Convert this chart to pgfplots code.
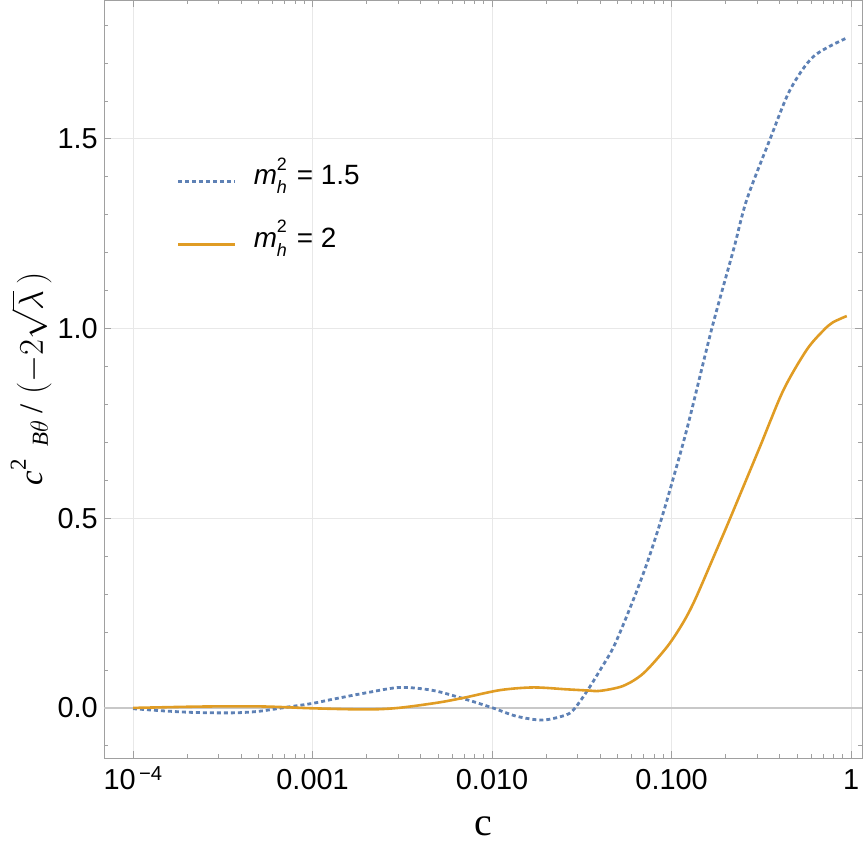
\documentclass[border=0pt]{standalone}
\usepackage{graphicx}
\usepackage{fontspec}
\setmainfont{Liberation Sans}
\newfontfamily\timesfont{Liberation Serif}
\usepackage{pgfplots}
\pgfplotsset{compat=1.18}

\definecolor{mblue}{RGB}{94,129,181}
\definecolor{morange}{RGB}{224,156,36}
\definecolor{framegray}{RGB}{160,160,160}
\definecolor{gridgray}{RGB}{232,232,232}
\definecolor{zerogray}{RGB}{200,200,200}

% m_h^2 with stacked indices
\newcommand{\mh}{\textit{m}\rlap{\raisebox{0.52em}{\fontsize{18}{18}\selectfont 2}}\raisebox{-0.32em}{\fontsize{18}{18}\selectfont\itshape h}\hspace{0.08em}}

\pgfplotstableread{
x y
1e-4 -0.002
1.5e-4 -0.008
2.2e-4 -0.012
3.6e-4 -0.013
5e-4 -0.009
7.2e-4 0.002
1.0e-3 0.012
1.3e-3 0.023
2.0e-3 0.040
3.07e-3 0.054
4.7e-3 0.046
7.2e-3 0.022
0.0101 0.0
0.0137 -0.022
0.0192 -0.032
0.026 -0.018
0.029 0.0
0.034 0.046
0.040 0.100
0.048 0.165
0.0612 0.285
0.0734 0.385
0.088 0.50
0.105 0.625
0.124 0.75
0.1675 1.0
0.221 1.207
0.262 1.339
0.354 1.5
0.457 1.629
0.617 1.717
0.937 1.765
}\mhonefive

\pgfplotstableread{
x y
1e-4 0.0
2e-4 0.003
3e-4 0.004
5e-4 0.004
7e-4 0.002
1e-3 -0.001
2e-3 -0.004
3e-3 0.0
5e-3 0.014
7e-3 0.027
0.0111 0.047
0.017 0.054
0.026 0.049
0.034 0.046
0.040 0.045
0.0537 0.058
0.0696 0.091
0.094 0.160
0.115 0.222
0.135 0.285
0.178 0.416
0.212 0.5
0.311 0.689
0.42 0.838
0.566 0.944
0.701 0.995
0.79 1.016
0.946 1.033
}\mhtwo

\begin{document}
\begin{tikzpicture}
\begin{axis}[
  scale only axis,
  width=758bp, height=758bp,
  xmode=log,
  xmin=6.89e-5, xmax=1.15,
  ymin=-0.132, ymax=1.866,
  axis line style={framegray, line width=0.8bp},
  tick style={framegray, line width=0.8bp},
  major tick length=7bp, minor tick length=4bp,
  tick align=inside,
  xtick={1e-4,1e-3,1e-2,1e-1,1},
  xticklabels={10\textsuperscript{\,−4},0.001,0.010,0.100,1},
  ytick={0,0.5,1,1.5},
  yticklabels={0.0,0.5,1.0,1.5},
  minor ytick={-0.1,0.1,0.2,0.3,0.4,0.6,0.7,0.8,0.9,1.1,1.2,1.3,1.4,1.6,1.7,1.8},
  /pgf/number format/assume math mode=true,
  ticklabel style={font=\fontsize{29}{34}\selectfont, text=black},
  xticklabel style={anchor=base, inner sep=0pt, yshift=-31bp},
  yticklabel style={anchor=east, inner sep=0pt, xshift=-6bp},
  grid=major,
  major grid style={gridgray, line width=0.9bp},
  xlabel={\timesfont\fontsize{40}{44}\selectfont c},
  every axis x label/.style={at={(axis description cs:0.5,0)}, anchor=base, yshift=-77bp},
  ylabel={\timesfont\fontsize{33}{38}\selectfont\textit{c}\raisebox{0.52em}{\fontsize{23}{23}\selectfont 2}\hspace{0.4em}\raisebox{-0.15em}{\fontsize{23}{23}\selectfont\textit{B}$\theta$}\hspace{0.2em}/\hspace{0.3em}{\fontsize{24}{28}\selectfont\scalebox{1.4}{$\bigl(-2\sqrt{\lambda}\,\bigr)$}}},
  every axis y label/.style={at={(axis description cs:0,0.5)}, xshift=-61bp, rotate=90, anchor=base, inner sep=0pt},
  legend style={draw=none, fill=none, at={(axis description cs:0.096,0.792)}, anchor=north west,
    font=\fontsize{28}{32}\selectfont, row sep=34bp, inner sep=0pt,
    nodes={inner sep=0pt, anchor=base west}},
  legend cell align=left,
  legend image code/.code={\draw[#1] (0bp,0.3em) -- (57bp,0.3em);},
  clip=true,
]
\addplot[zerogray, line width=1.2bp, forget plot] coordinates {(6.89e-5,0) (1.15,0)};
\addplot[mblue, line width=2.8bp, dash pattern=on 4bp off 3bp, smooth] table[x=x,y=y] {\mhonefive};
\addlegendentry{\hspace{17bp}\mh\ = 1.5}
\addplot[morange, line width=2.6bp, smooth] table[x=x,y=y] {\mhtwo};
\addlegendentry{\hspace{17bp}\mh\ = 2}
\end{axis}
\pgfresetboundingbox
\path[use as bounding box] (-104bp,-84bp) rectangle (759bp,758bp);
\end{tikzpicture}
\end{document}
